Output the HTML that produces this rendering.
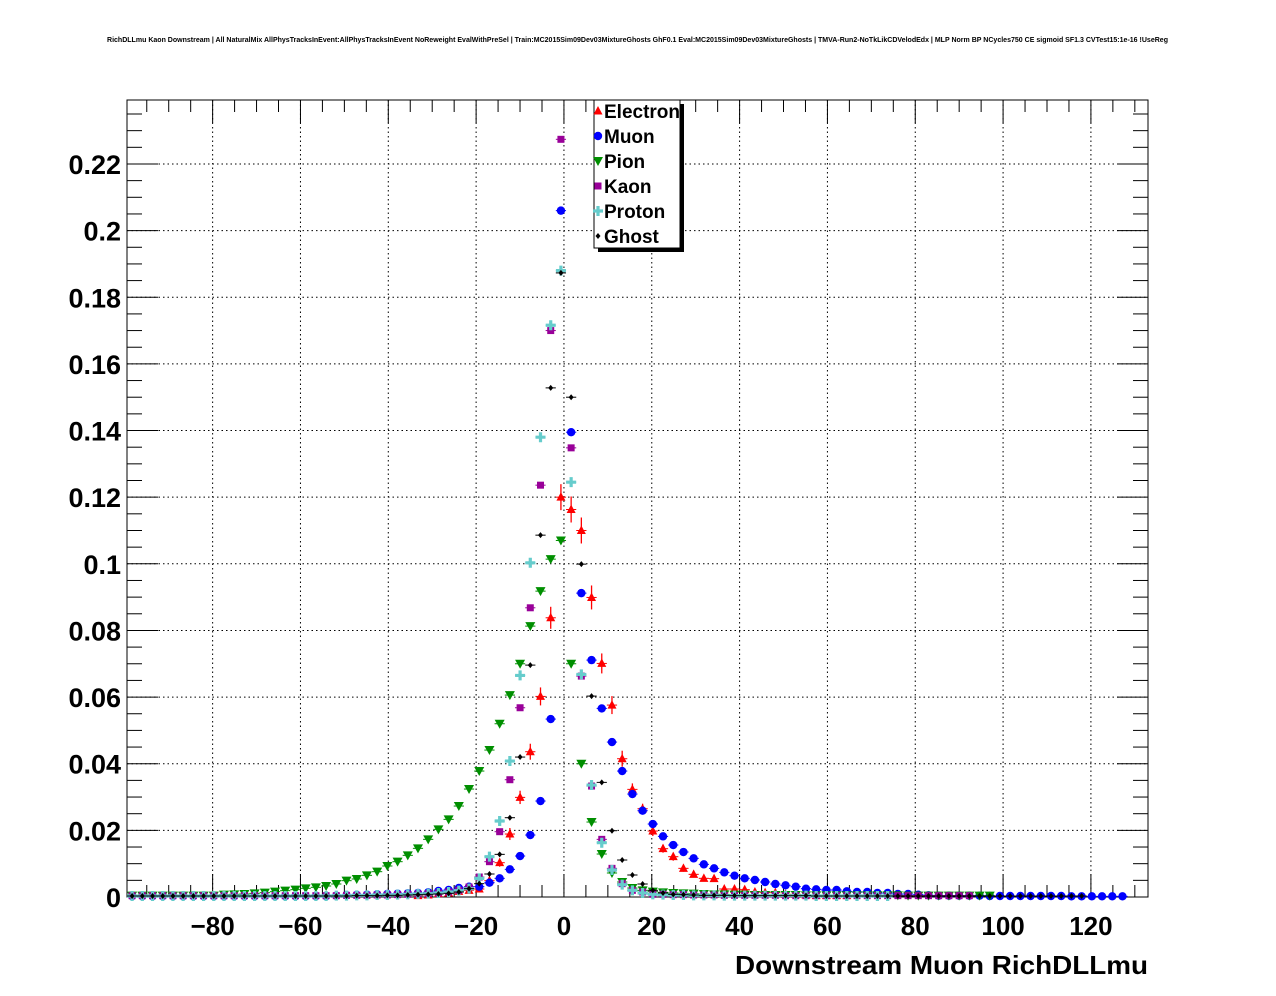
<!DOCTYPE html>
<html><head><meta charset="utf-8">
<style>
html,body{margin:0;padding:0;background:#fff;}
svg{display:block;font-family:"Liberation Sans",sans-serif;}
</style></head>
<body>
<svg id="chart" width="1276" height="996" viewBox="0 0 1276 996" xmlns="http://www.w3.org/2000/svg">
<rect x="0" y="0" width="1276" height="996" fill="#fff"/>
<text x="107" y="42" font-size="7" font-weight="bold" textLength="1061" lengthAdjust="spacingAndGlyphs">RichDLLmu Kaon Downstream | All NaturalMix AllPhysTracksInEvent:AllPhysTracksInEvent NoReweight EvalWithPreSel | Train:MC2015Sim09Dev03MixtureGhosts GhF0.1 Eval:MC2015Sim09Dev03MixtureGhosts | TMVA-Run2-NoTkLikCDVelodEdx | MLP Norm BP NCycles750 CE sigmoid SF1.3 CVTest15:1e-16 !UseReg</text>
<g id="grid"></g>
<g id="axes"></g>
<g id="series"></g>
<g id="legend"></g>
<text x="1148" y="974" font-size="26" font-weight="bold" text-anchor="end" textLength="413" lengthAdjust="spacingAndGlyphs">Downstream Muon RichDLLmu</text>
</svg>
<script>
// ---- data ----
const xMin = -99.5, xMax = 133, nBins = 100;
const yMin = 0, yMax = 0.2392;
const xTicks = [-80,-60,-40,-20,0,20,40,60,80,100,120];
const yTicks = [0,0.02,0.04,0.06,0.08,0.1,0.12,0.14,0.16,0.18,0.2,0.22];
const yTickLabels = ["0","0.02","0.04","0.06","0.08","0.1","0.12","0.14","0.16","0.18","0.2","0.22"];
const seriesNames = ["Electron","Muon","Pion","Kaon","Proton","Ghost"];

const electronStart = 28;
const electron = [.0004,.0006,.001,.0012,.0017,.002,.0024,.0049,.0103,.0189,.0299,.0436,.0602,.0838,.120,.1163,.110,.0899,.0701,.0576,.0415,.0323,.0265,.0198,.0145,.0121,.0086,.0068,.0056,.0055,.0024,.0024,.0022,.0015,.0013,.0013,.0008,.0008,.0006,.0004,.0004,.0004,.0004];
const electronErr = [.0005,.0005,.0005,.0005,.0005,.0005,.0005,.0006,.0012,.0018,.002,.0024,.0027,.0033,.0039,.0039,.0039,.0036,.003,.0027,.0024,.0018,.0015,.0015,.0012,.0012,.001,.0009,.0008,.0008,.0005,.0005,.0005,.0005,.0005,.0005,.0005,.0005,.0005,.0005,.0005,.0005,.0005];

const muonStart = 0;
const muon = [.0003,.0003,.0003,.0003,.0003,.0003,.0003,.0003,.0003,.0003,.0003,.0003,.0003,.0003,.0003,.0003,.0003,.0003,.0003,.0003,
.0004,.0005,.0006,.0007,.0008,.0009,.001,.0011,.0012,.0014,.0018,.0021,.0027,.0031,.0031,.0043,.0056,.0083,.0123,.0186,.0288,.0534,
.206,.1395,.0912,.0711,.0566,.0465,.0378,.0309,.0259,.0219,.0182,.0156,.0135,.0116,.0098,.0086,.0074,.0064,.0056,.0051,.0045,.0039,.0035,.0031,.0025,.0023,.0021,.0021,.0017,.0015,.0015,.0012,.0012,.0009,.0009,.0007,.0005,
.0004,.0004,.0004,.0004,.0004,.0003,.0003,.0003,.0003,.0003,.0003,.0003,.0003,.0002,.0002,.0002,.0002,.0002,.0002];

const pionStart = 0;
const pion = [.0004,.0004,.0004,.0004,.0004,.0004,.0004,.0004,.0004,
.0007,.0008,.0009,.0011,.0013,.0016,.0019,.0022,.0026,.0029,.0033,.0039,.0049,.0054,.0065,.0076,.0093,.0106,.0125,.0146,.0173,.0203,.0233,.0273,
.0324,.0378,.0441,.052,.0606,.070,.0813,.0918,.1014,.107,
.070,.040,.0225,.0129,.0072,.0045,.0027,.0020,.0016,
.0014,.0012,.0011,.001,.0009,.0008,.0008,.0007,.0007,
.0006,.0006,.0006,.0006,.0006,.0005,.0005,.0005,.0005,.0005,.0005,.0005,.0005,.0005,.0005,.0004,.0004,.0004,.0004,.0004,.0004,.0004,.0004,.0004];

const kaonStart = 0;
const kaon = [.0004,.0004,.0004,.0004,.0004,.0004,.0004,.0004,.0004,.0004,.0004,.0004,.0004,.0004,.0004,.0004,.0004,.0004,.0004,.0004,.0004,.0005,.0005,.0005,.0006,.0006,.0007,.0008,.0009,.001,.0012,
.0015,.002,.003,.006,.0106,.0196,.0352,.0568,.0868,.1236,.170,.2274,.1348,.0663,.0333,.0173,.0086,.004,.002,.0015,
.0008,.0008,.0007,.0007,.0006,.0006,.0006,.0005,.0005,.0005,.0005,.0005,.0005,.0004,.0004,.0004,.0004,.0004,.0004,.0004,.0004,.0004,.0004,.0004,.0004,.0004,.0004,.0004,.0004,.0004,.0004,.0004];

const protonStart = 0;
const proton = [.0003,.0003,.0003,.0003,.0003,.0003,.0003,.0003,.0003,.0003,.0003,.0003,.0003,.0003,.0003,.0003,.0003,.0003,.0003,.0003,.0004,.0004,.0005,.0005,.0006,.0006,.0007,.0008,.0009,.001,.0012,.0015,.0019,
.0025,.0056,.0121,.0228,.0408,.0665,.1003,.138,.1716,.188,.1245,.0668,.0336,.0163,.0081,.0037,.002,.0012,
.0008,.0007,.0006,.0006,.0005,.0005,.0005,.0004,.0004,.0004,.0004,.0004,.0004,.0004,.0004,.0004,.0003,.0003,.0003,.0003,.0003,.0003,.0003,.0003];

const ghostStart = 0;
const ghost = [.0003,.0003,.0003,.0003,.0003,.0003,.0003,.0003,.0003,.0003,.0003,.0003,.0003,.0003,.0003,.0003,.0003,.0003,.0003,.0003,.0003,.0003,.0004,.0004,.0004,.0005,.0005,.0006,.0007,.0008,.0009,.0011,
.0015,.0025,.004,.0069,.0128,.0238,.042,.0696,.1086,.1528,.1873,.150,.0999,.0603,.0344,.0199,.0111,.0066,.0039,.002,.0012,
.0008,.0007,.0006,.0005,.0005,.0005,.0004,.0004,.0004,.0004,.0004,.0004,.0004,.0004,.0003,.0003,.0003,.0003,.0003,.0003,.0003,.0003,.0003,.0003,.0003,.0003,.0003,.0003,.0003,.0003,.0003,.0003,.0003,.0003,.0003,.0003,.0003,.0003,.0003,.0003,.0003];

// ---- layout ----
const L = 127, R = 1148, T = 100, B = 897;
const NS = "http://www.w3.org/2000/svg";
const xs = v => L + (v - xMin) / (xMax - xMin) * (R - L);
const ys = v => B - (v - yMin) / (yMax - yMin) * (B - T);
const binW = (xMax - xMin) / nBins;
const binCenter = k => xMin + (k + 0.5) * binW;
function mk(tag, attrs, parent) {
  const e = document.createElementNS(NS, tag);
  for (const a in attrs) e.setAttribute(a, attrs[a]);
  parent.appendChild(e);
  return e;
}
const grid = document.getElementById('grid');
const axes = document.getElementById('axes');
const ser = document.getElementById('series');
const leg = document.getElementById('legend');

xTicks.forEach(t => {
  const l = mk('line', {x1: xs(t), x2: xs(t), y1: T, y2: B, stroke: '#000', 'stroke-width': 1, 'stroke-dasharray': '1.5,3'}, grid);
  
  
});
yTicks.forEach(t => {
  if (t === 0) return;
  const l = mk('line', {x1: L, x2: R, y1: ys(t), y2: ys(t), stroke: '#000', 'stroke-width': 1, 'stroke-dasharray': '1.5,3'}, grid);
  
  
});

const fr = mk('rect', {x: L, y: T, width: R - L, height: B - T, fill: 'none', stroke: '#000', 'stroke-width': 1}, axes);



for (let v = -95; v <= 130; v += 5) {
  const major = (v % 20 === 0);
  const len = major ? 23 : 12;
  const x = xs(v);
  const t1 = mk('line', {x1: x, x2: x, y1: B, y2: B - len, stroke: '#000', 'stroke-width': 1}, axes);
  
  
  const t2 = mk('line', {x1: x, x2: x, y1: T, y2: T + len, stroke: '#000', 'stroke-width': 1}, axes);
  
  
}
xTicks.forEach(t => {
  const tx = mk('text', {x: xs(t), y: 935, 'font-size': 26, 'font-weight': 'bold', 'text-anchor': 'middle'}, axes);
  
  
  tx.textContent = t < 0 ? '\u2212' + (-t) : String(t);
});
for (let i = 0; i * 0.005 <= yMax; i++) {
  const v = i * 0.005;
  const major = (i % 4 === 0);
  const len = major ? 31 : 15;
  const y = ys(v);
  const t1 = mk('line', {x1: L, x2: L + len, y1: y, y2: y, stroke: '#000', 'stroke-width': 1}, axes);
  
  
  const t2 = mk('line', {x1: R, x2: R - len, y1: y, y2: y, stroke: '#000', 'stroke-width': 1}, axes);
  
  
}
yTicks.forEach((t, i) => {
  const tx = mk('text', {x: 121, y: ys(t) + 10, 'font-size': 27, 'font-weight': 'bold', 'text-anchor': 'end'}, axes);
  
  
  tx.textContent = yTickLabels[i];
});

const colors = {Electron: '#ff0000', Muon: '#0000ff', Pion: '#008f00', Kaon: '#990099', Proton: '#66cccc', Ghost: '#000000'};
function marker(name, x, y, parent) {
  const c = colors[name];
  let m;
  if (name === 'Electron') m = mk('polygon', {points: `${x},${y-5} ${x-4.5},${y+3.5} ${x+4.5},${y+3.5}`, fill: c}, parent);
  else if (name === 'Muon') m = mk('circle', {cx: x, cy: y, r: 4.2, fill: c}, parent);
  else if (name === 'Pion') m = mk('polygon', {points: `${x-5},${y-4} ${x+5},${y-4} ${x},${y+5}`, fill: c}, parent);
  else if (name === 'Kaon') m = mk('rect', {x: x - 3.5, y: y - 3.5, width: 7, height: 7, fill: c}, parent);
  else if (name === 'Proton') m = mk('path', {d: `M${x-5} ${y-1.6}h3.4v-3.4h3.2v3.4h3.4v3.2h-3.4v3.4h-3.2v-3.4h-3.4z`, fill: c}, parent);
  else m = mk('polygon', {points: `${x},${y-3} ${x+2.5},${y} ${x},${y+3} ${x-2.5},${y}`, fill: c}, parent);
  return m;
}
function drawSeries(name, start, vals, errs) {
  const g = mk('g', {}, ser);
  
  
  vals.forEach((v, i) => {
    if (!(v > 0)) return;
    const k = start + i;
    const xc = binCenter(k);
    const x = xs(xc), y = ys(v);
    const eb = mk('line', {x1: xs(xc - binW / 2), x2: xs(xc + binW / 2), y1: y, y2: y, stroke: colors[name], 'stroke-width': 1}, g);
    
    
    if (errs && errs[i]) {
      const ev = mk('line', {x1: x, x2: x, y1: ys(v + errs[i]), y2: ys(Math.max(0, v - errs[i])), stroke: colors[name], 'stroke-width': 1.3}, g);
      
      
    }
    const m = marker(name, x, y, g);
    
    
  });
}
drawSeries('Electron', electronStart, electron, electronErr);
drawSeries('Muon', muonStart, muon);
drawSeries('Pion', pionStart, pion);
drawSeries('Kaon', kaonStart, kaon);
drawSeries('Proton', protonStart, proton);
drawSeries('Ghost', ghostStart, ghost);

const sh = mk('rect', {x: 598, y: 104, width: 86, height: 148, fill: '#000'}, leg);


const box = mk('rect', {x: 594, y: 100, width: 86, height: 148, fill: '#fff', stroke: '#000', 'stroke-width': 1}, leg);


seriesNames.forEach((n, i) => {
  const g = mk('g', {}, leg);
  
  
  const y = 111 + i * 25;
  const m = marker(n, 598, y, g);
  
  
  const t = mk('text', {x: 604, y: y + 7, 'font-size': 19, 'font-weight': 'bold'}, g);
  
  
  t.textContent = n;
});
</script>
</body></html>
